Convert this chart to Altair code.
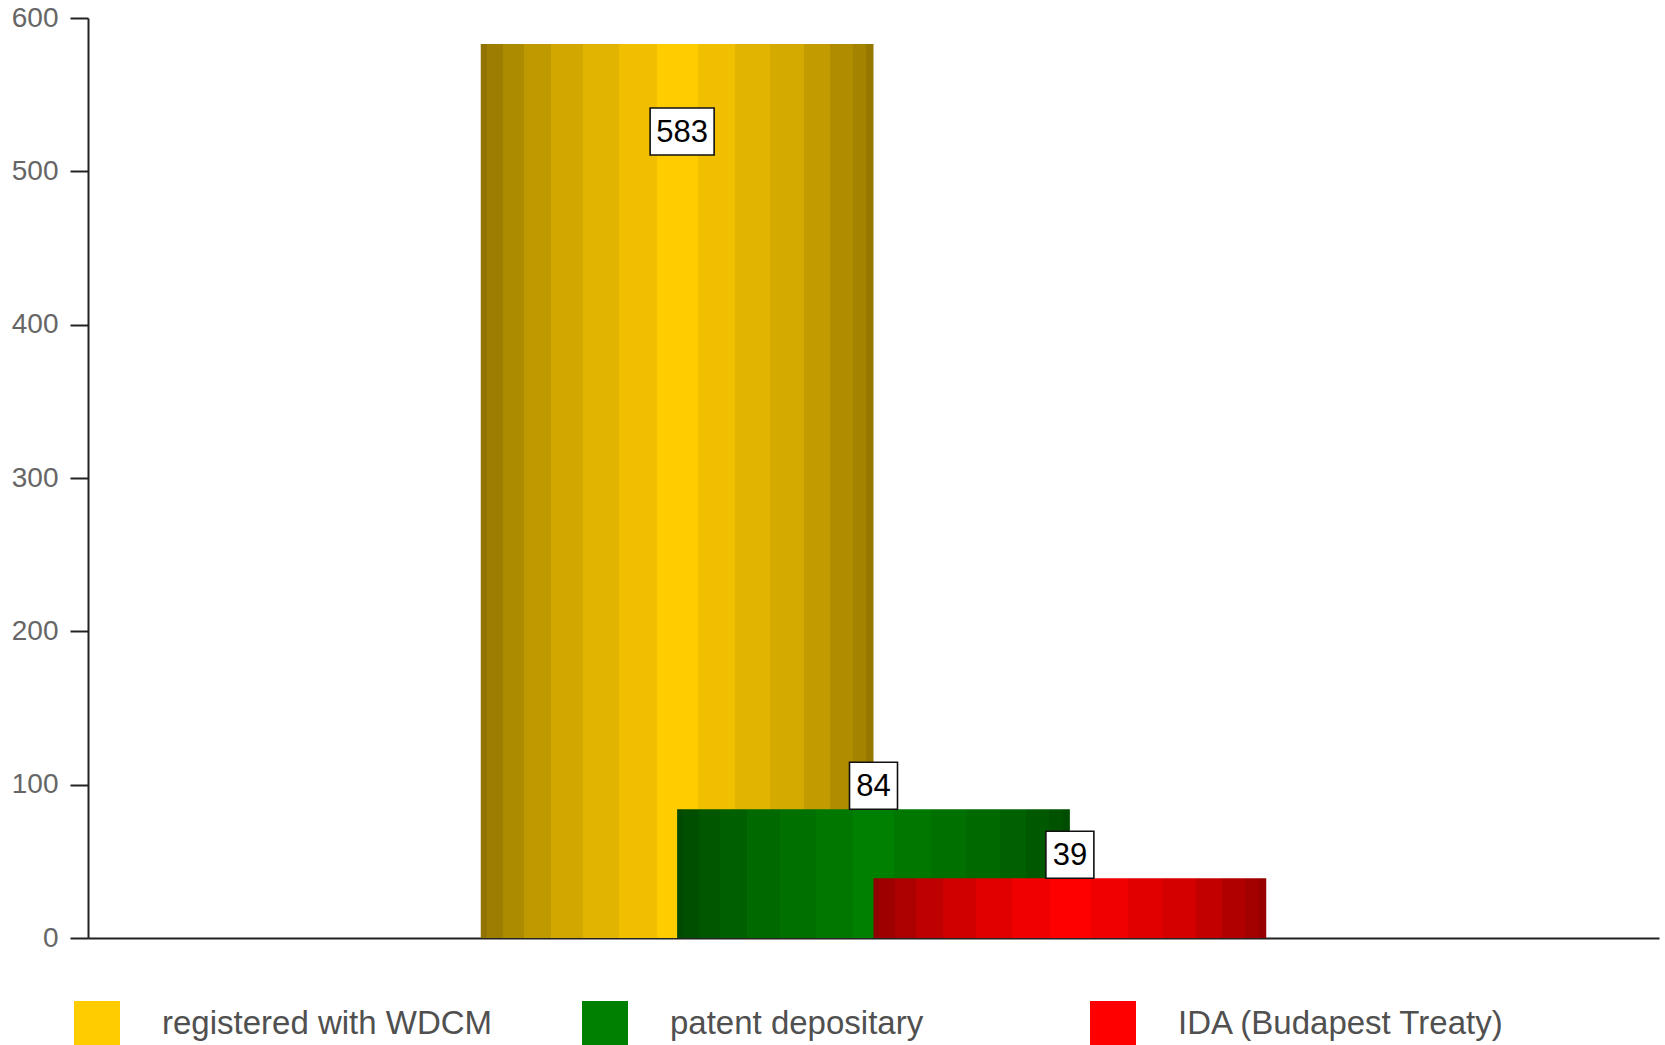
import altair as alt
import pandas as pd

# --- data -----------------------------------------------------------------
series = ["registered with WDCM", "patent depositary", "IDA (Budapest Treaty)"]
counts = [583, 84, 39]
base_colors = ["#FFCC00", "#008000", "#FF0000"]
y_ticks = [0, 100, 200, 300, 400, 500, 600]

# --- layout / style -------------------------------------------------------
x_domain = [0, 8]          # bars sit on slots 3, 4, 5 and are two slots wide
first_slot = 3
label_place = ["inside", "top", "top"]
label_dx = [5, 0, 0]
FONT = "Liberation Sans"

# cylinder shading: stripe edges (fraction of bar width) and stripe brightness
stripe_edges = [0, 0.015, 0.056, 0.109, 0.178, 0.261, 0.353, 0.449,
                0.553, 0.647, 0.736, 0.822, 0.888, 0.947, 0.982, 1.0]
stripe_shade = [0.57, 0.62, 0.68, 0.75, 0.82, 0.88, 0.94, 1.0,
                0.94, 0.88, 0.83, 0.76, 0.69, 0.64, 0.59]


def shade(hex_color, f):
    r, g, b = (int(hex_color[i:i + 2], 16) for i in (1, 3, 5))
    return "#%02X%02X%02X" % (round(r * f), round(g * f), round(b * f))


def cylinder_fill(hex_color):
    stops = []
    for k, f in enumerate(stripe_shade):
        c = shade(hex_color, f)
        stops.append(alt.GradientStop(offset=stripe_edges[k], color=c))
        stops.append(alt.GradientStop(offset=stripe_edges[k + 1], color=c))
    return alt.LinearGradient(gradient="linear", stops=stops, x1=0, x2=1, y1=0, y2=0)


df = pd.DataFrame({
    "series": series,
    "count": counts,
    "slot": [first_slot + i for i in range(len(series))],
})

base = alt.Chart(df).transform_calculate(
    left="datum.slot - 1", right="datum.slot + 1", zero="0"
)

x_scale = alt.Scale(domain=x_domain, nice=False, zero=False)
y_scale = alt.Scale(domain=[0, 600], nice=False)

x_axis = alt.Axis(labels=False, ticks=False, grid=False, title=None,
                  domainColor="#222222", domainWidth=2)
y_axis = alt.Axis(values=y_ticks, grid=False, title=None,
                  domainColor="#222222", domainWidth=2,
                  tickColor="#222222", tickWidth=2, tickSize=18,
                  labelFontSize=28, labelColor="#666666", labelFont=FONT,
                  labelPadding=12)

layers = []

# shaded bars, drawn in series order so later ones overlap earlier ones
for i, name in enumerate(series):
    layers.append(
        base.transform_filter(alt.datum.series == name)
        .mark_rect(color=cylinder_fill(base_colors[i]))
        .encode(
            x=alt.X("left:Q", scale=x_scale, axis=x_axis),
            x2="right:Q",
            y=alt.Y("count:Q", scale=y_scale, axis=y_axis),
            y2="zero:Q",
        )
    )

# invisible layer carrying the colour legend
layers.append(
    base.mark_square(opacity=0, size=1)
    .encode(
        x=alt.X("slot:Q", scale=x_scale, axis=x_axis),
        y=alt.Y("count:Q", scale=y_scale, axis=y_axis),
        color=alt.Color(
            "series:N",
            scale=alt.Scale(domain=series, range=base_colors),
            legend=alt.Legend(
                title=None, orient="none", legendX=-14, legendY=983,
                direction="horizontal", columns=3, gridAlign="all",
                columnPadding=89, symbolType="square", symbolSize=2116,
                symbolStrokeWidth=0, symbolOpacity=1, labelFontSize=33,
                labelColor="#505050", labelFont=FONT, labelOffset=42,
                labelLimit=0, padding=0,
            ),
        ),
    )
)

# value labels in white boxes
for i, name in enumerate(series):
    text = str(counts[i])
    w = 16 * len(text) + 16
    h = 47 / w
    box_path = f"M-1,{-h:.4f}L1,{-h:.4f}L1,{h:.4f}L-1,{h:.4f}Z"
    yoff = 87.5 if label_place[i] == "inside" else -23.5
    sel = base.transform_filter(alt.datum.series == name)
    enc = dict(
        x=alt.X("slot:Q", scale=x_scale, axis=x_axis),
        y=alt.Y("count:Q", scale=y_scale, axis=y_axis),
    )
    layers.append(
        sel.mark_point(shape=box_path, size=w * w, filled=True, fill="white",
                       stroke="#111111", strokeWidth=1.6, opacity=1,
                       fillOpacity=1, strokeOpacity=1,
                       xOffset=label_dx[i], yOffset=yoff)
        .encode(**enc)
    )
    layers.append(
        sel.mark_text(font=FONT, fontSize=31, color="#000000",
                      align="center", baseline="middle",
                      xOffset=label_dx[i], yOffset=yoff + 1)
        .encode(text="count:Q", **enc)
    )

chart = (
    alt.layer(*layers)
    .properties(
        width=1571, height=920, autosize="none",
        padding={"left": 88, "top": 18, "right": 6, "bottom": 107},
    )
    .configure(font=FONT)
    .configure_view(stroke=None, strokeWidth=0)
)

chart.save("out.html", embed_options={"renderer": "svg", "actions": False})
